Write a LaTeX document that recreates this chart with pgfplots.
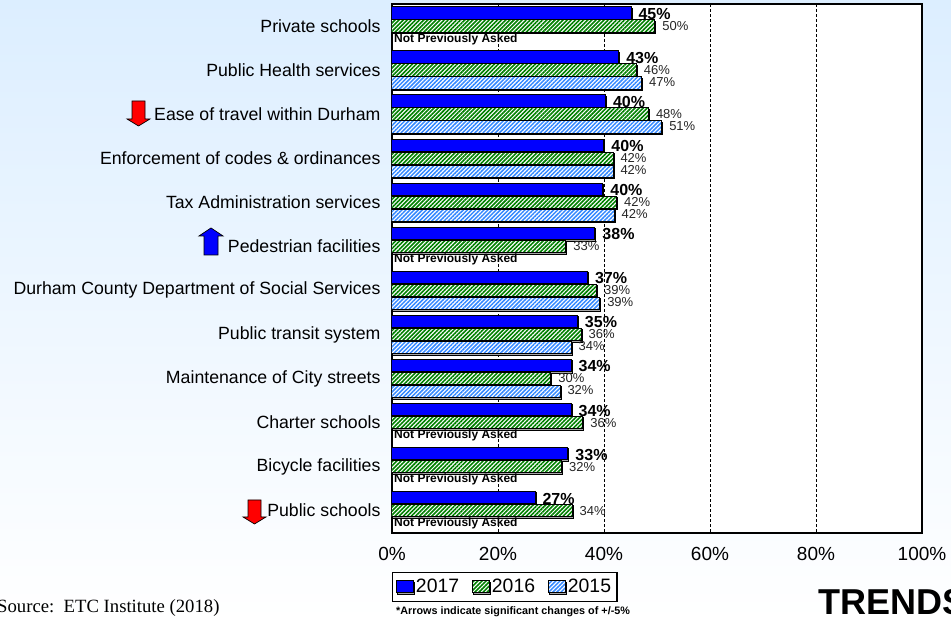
\documentclass[border=0pt]{standalone}
\usepackage{fontspec}
\setmainfont{Liberation Sans}
\newfontfamily\timesf{Liberation Serif}
\usepackage{pgfplots}
\pgfplotsset{compat=1.18}
\usetikzlibrary{patterns.meta,shadings}
\definecolor{bgtop}{HTML}{DCEEFF}
\definecolor{bar17}{HTML}{0000FF}
\definecolor{hatch16}{HTML}{008000}
\definecolor{hatch15}{HTML}{3388FF}
\tikzset{
  shadowbar/.style={preaction={fill=gray!70,transform canvas={shift={(1pt,-1.5pt)}}}},
  hatchG/.style={fill=white,postaction={pattern={Lines[angle=45,distance=2.9pt,line width=1.6pt]},pattern color=hatch16}},
  hatchB/.style={fill=white,postaction={pattern={Lines[angle=45,distance=2.9pt,line width=1.5pt]},pattern color=hatch15}},
}
\begin{document}
\begin{tikzpicture}
\path[use as bounding box] (0,0) rectangle (951pt,620pt);
\clip (0,0) rectangle (951pt,620pt);
\shade[top color=bgtop,bottom color=white] (0,0) rectangle (951pt,620pt);
\begin{axis}[
  at={(392pt,87.3pt)},anchor=south west,
  scale only axis,width=530pt,height=528.7pt,
  axis background/.style={fill=white},
  axis line style={black,line width=2.2pt},
  xmin=0,xmax=100,ymin=-0.5,ymax=11.5,
  y dir=reverse,
  xtick={0,20,40,60,80,100},
  xticklabels={0\%,20\%,40\%,60\%,80\%,100\%},
  ytick={0,...,11},
  yticklabels={Private schools,Public Health services,Ease of travel within Durham,Enforcement of codes \& ordinances,Tax Administration services,Pedestrian facilities,Durham County Department of Social Services,Public transit system,Maintenance of City streets,Charter schools,Bicycle facilities,Public schools},
  major tick length=0pt,
  tick label style={black},
  xticklabel style={font=\fontsize{19}{19}\selectfont,yshift=-11pt},
  yticklabel style={font=\fontsize{17.7}{17.7}\selectfont,xshift=-8pt},
  xmajorgrids,
  x grid style={black,line width=0.7pt,dash pattern=on 3pt off 2pt},
  xbar,
  bar width=12.4pt,
  point meta=x,
  nodes near coords={\pgfmathprintnumber[fixed,precision=0,assume math mode=true]{\pgfplotspointmeta}\%},
  legend style={at={(0.2125,-0.0735)},anchor=north,legend columns=3,draw=black,line width=1.3pt,fill=white,
    font=\fontsize{19.4}{19.4}\selectfont,inner xsep=4pt,inner ysep=5pt,
    /tikz/column 2/.style={column sep=11pt},
    /tikz/column 4/.style={column sep=11pt},
    legend cell align=left},
  legend image code/.code={\path[draw=black,line width=0.8pt,#1] (0pt,-6pt) rectangle (17pt,6pt);},
]
\addplot[draw=black,line width=1pt,fill=bar17,shadowbar,bar shift=13pt,
  every node near coord/.style={anchor=west,inner sep=0pt,xshift=7pt,yshift=12pt,black,font=\bfseries\fontsize{16}{16}\selectfont}]
  coordinates {(45.1,0)(42.8,1)(40.3,2)(40.0,3)(39.8,4)(38.3,5)(36.9,6)(35.0,7)(33.8,8)(33.8,9)(33.2,10)(27.0,11)};
\addplot[draw=black,line width=1pt,hatchG,shadowbar,bar shift=0pt,
  every node near coord/.style={anchor=west,inner sep=0pt,xshift=7pt,black!85,font=\fontsize{13}{13}\selectfont}]
  coordinates {(49.6,0)(46.1,1)(48.4,2)(41.7,3)(42.4,4)(32.8,5)(38.6,6)(35.7,7)(30.0,8)(36.0,9)(32.0,10)(34.0,11)};
\addplot[draw=black,line width=1pt,hatchB,shadowbar,bar shift=-13pt,
  every node near coord/.style={anchor=west,inner sep=0pt,xshift=7pt,yshift=-12pt,black!85,font=\fontsize{13}{13}\selectfont}]
  coordinates {(47.1,1)(50.9,2)(41.7,3)(41.9,4)(39.2,6)(33.8,7)(31.7,8)};
\legend{2017,2016,2015}
\foreach \g in {0,5,9,10,11}{
  \edef\tmp{\noexpand\node[anchor=west,inner sep=0pt,xshift=2pt,font=\noexpand\bfseries\noexpand\fontsize{12}{12}\noexpand\selectfont] at (axis cs:0,\g+0.295) {Not Previously Asked};}
  \tmp
}
\end{axis}
% arrows
\begin{scope}[yscale=-1,yshift=-620pt,x=1pt,y=1pt]
\filldraw[fill=red,draw=black,line width=0.7pt] (132,101)--(145,101)--(145,119)--(150,119)--(138.5,126)--(127,119)--(132,119)--cycle;
\filldraw[fill=red,draw=black,line width=0.7pt] (248,500)--(261,500)--(261,517)--(266,517)--(254.5,524)--(243,517)--(248,517)--cycle;
\filldraw[fill=bar17,draw=black,line width=0.7pt] (204,255)--(218,255)--(218,236)--(223,236)--(211,228)--(199,236)--(204,236)--cycle;
\end{scope}
\node[anchor=base west,inner sep=0pt,font=\timesf\fontsize{18.7}{18.7}\selectfont] at (-3pt,7pt) {Source:\ \ ETC Institute (2018)};
\node[anchor=base west,inner sep=0pt,font=\bfseries\fontsize{10.8}{10.8}\selectfont] at (396pt,5pt) {*Arrows indicate significant changes of +/-5\%};
\node[anchor=base west,inner sep=0pt,font=\bfseries\fontsize{36}{36}\selectfont] at (818pt,5pt) {TRENDS};
\end{tikzpicture}
\end{document}
